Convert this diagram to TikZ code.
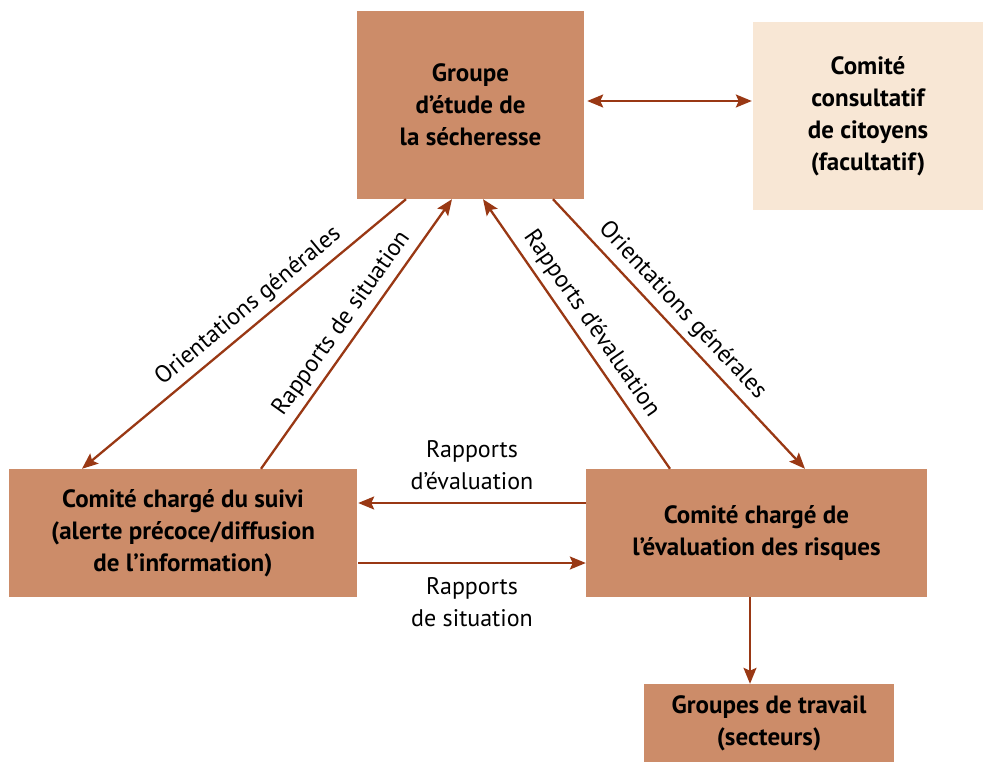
\documentclass[tikz,border=0pt]{standalone}
\usepackage{fontspec}
\setmainfont{PT Sans}
\usetikzlibrary{arrows.meta}
\usetikzlibrary{calc}
\definecolor{boxfill}{HTML}{CC8C69}
\definecolor{optfill}{HTML}{F8E7D5}
\definecolor{linkcol}{HTML}{993814}

\begin{document}
\begin{tikzpicture}[x=1pt, y=-1pt, >={Stealth[length=16pt, width=13pt, inset=3pt]},
box/.style={rectangle, fill=boxfill, align=center, inner sep=0pt,
font=\fontsize{25}{32}\selectfont\bfseries},
optbox/.style={box, fill=optfill},
link/.style={draw=linkcol, line width=2.3pt},
lbl/.style={font=\fontsize{24}{32}\selectfont, align=center, inner sep=6pt}]
\useasboundingbox (0,0) rectangle (983,762);
\node[box, minimum width=227pt, minimum height=188pt] (groupe) at (470.5,105) {Groupe\\d’étude de\\la sécheresse};
\node[optbox, minimum width=230pt, minimum height=188pt] (citoyens) at (868,116) {Comité\\consultatif\\de citoyens\\(facultatif)};
\node[box, minimum width=348pt, minimum height=128pt] (suivi) at (183,533) {Comité chargé du suivi\\(alerte précoce/diffusion\\de l’information)};
\node[box, minimum width=341pt, minimum height=128pt] (risques) at (756.5,533) {Comité chargé de\\l’évaluation des risques};
\node[box, minimum width=250pt, minimum height=78pt] (travail) at (769,723) {Groupes de travail\\(secteurs)};
\draw[link, <->] ($(groupe.east)+(3,-4)$) -- ($(citoyens.west)+(-1,-15)$);
\draw[link, ->] ($(groupe.south)+(-64.5,0)$) -- node[lbl, sloped, above, pos=0.45] {Orientations générales} ($(suivi.north)+(-101,0)$);
\draw[link, ->] ($(suivi.north)+(78,0)$) -- node[lbl, sloped, above, pos=0.5] {Rapports de situation} ($(groupe.south)+(-18.5,0)$);
\draw[link, ->] ($(risques.north)+(-86.5,0)$) -- node[lbl, sloped, above, pos=0.5] {Rapports d’évaluation} ($(groupe.south)+(12.5,0)$);
\draw[link, ->] ($(groupe.south)+(82.5,0)$) -- node[lbl, sloped, above, pos=0.46] {Orientations générales} ($(risques.north)+(48.5,0)$);
\draw[link, ->] ($(risques.west)+(0,-30)$) -- node[lbl, above, inner sep=12pt] {Rapports\\d’évaluation} ($(suivi.east)+(1,-30)$);
\draw[link, ->] ($(suivi.east)+(1,30)$) -- node[lbl, below, inner sep=13pt] {Rapports\\de situation} ($(risques.west)+(0,30)$);
\draw[link, ->] ($(risques.south)+(-6.5,0)$) -- ($(travail.north)+(-19,0)$);
\end{tikzpicture}
\end{document}
